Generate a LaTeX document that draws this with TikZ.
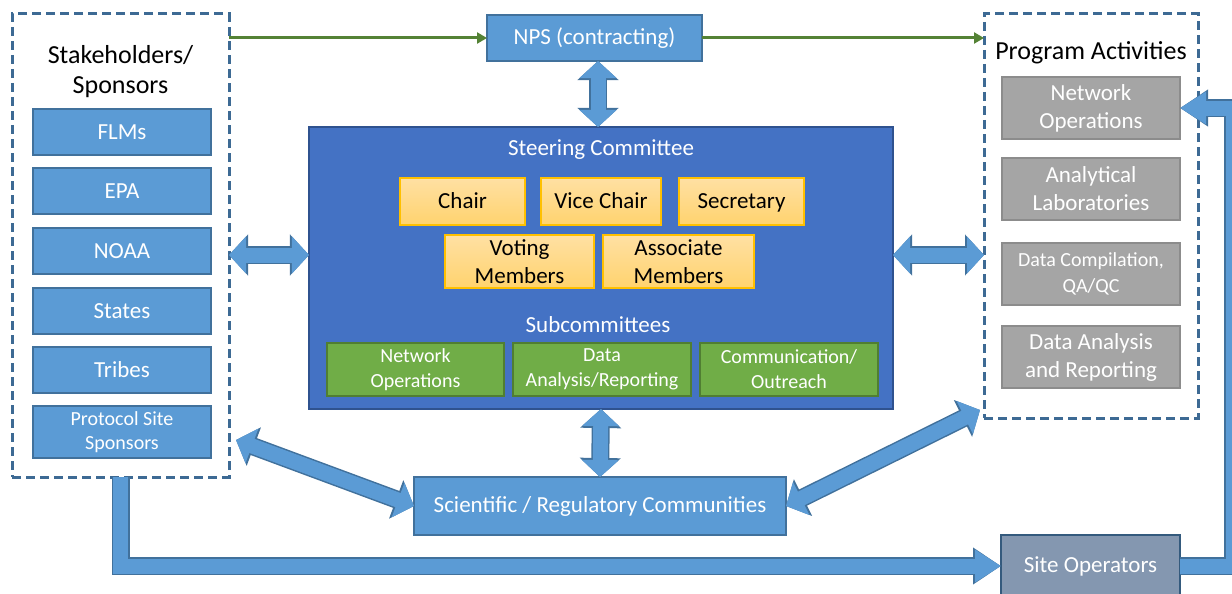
\documentclass[tikz,border=0pt]{standalone}
\usepackage{fontspec}
\setmainfont{Carlito}
\usetikzlibrary{arrows.meta,positioning}

\definecolor{boxblue}{HTML}{5B9BD5}
\definecolor{edgeblue}{HTML}{41719C}
\definecolor{dashblue}{HTML}{3D6A94}
\definecolor{steerblue}{HTML}{4472C4}
\definecolor{steeredge}{HTML}{2F528F}
\definecolor{officertop}{HTML}{FFE0A3}
\definecolor{officerbot}{HTML}{FFD36E}
\definecolor{officeredge}{HTML}{FFC000}
\definecolor{subgreen}{HTML}{70AD47}
\definecolor{subedge}{HTML}{507E32}
\definecolor{actgray}{HTML}{A5A5A5}
\definecolor{actedge}{HTML}{8C8C8C}
\definecolor{sitegray}{HTML}{8497B0}
\definecolor{flowgreen}{HTML}{548235}

% thick outlined block arrows, drawn twice (edge, then fill)
\newcommand{\blockarrow}[2][{Triangle[length=7pt 0.667,width=16pt 1.333]}-{Triangle[length=7pt 0.667,width=16pt 1.333]}]{%
  \draw[edgeblue, line width=18pt, line join=miter, #1] #2;
  \draw[boxblue, line width=15pt, line join=miter, #1] #2;}

\begin{document}
\begin{tikzpicture}[x=1pt, y=-1pt,
	every node/.style={inner sep=0pt, outer sep=0pt, align=center},
	groupbox/.style={draw=dashblue, line width=3pt, dash pattern=on 9pt off 5pt},
	grouptitle/.style={font=\fontsize{26}{30}\selectfont},
	sponsor/.style={draw=edgeblue, line width=1.2pt, fill=boxblue, text=white,
		minimum width=178pt, minimum height=46pt, font=\fontsize{23}{28}\selectfont},
	activity/.style={draw=actedge, line width=1.2pt, fill=actgray, text=white,
		minimum width=178pt, minimum height=62pt, font=\fontsize{23}{28}\selectfont},
	officer/.style={draw=officeredge, line width=1.2pt, top color=officertop, bottom color=officerbot,
		text=black, minimum height=47pt, font=\fontsize{23}{28}\selectfont},
	oneline/.style={text height=16pt, text depth=3pt},
	subcom/.style={draw=subedge, line width=1.2pt, fill=subgreen, text=white,
		minimum width=178pt, minimum height=53pt, font=\fontsize{20}{25}\selectfont},
	flow/.style={draw=flowgreen, line width=3pt, -{Triangle[length=10pt,width=11pt]}},
	elbowtip/.style={-{Triangle[length=16pt 0.667,width=11pt 1.333]}}]
\useasboundingbox (0,0) rectangle (1232,594);

% stakeholders
\node[groupbox, minimum width=217pt, minimum height=463pt,
	label={[grouptitle, anchor=north, yshift=-31pt]north:Stakeholders/\\Sponsors}] (stake) at (120.5,245.5) {};
\node[sponsor] (flm) at (122,132) {FLMs};
\node[sponsor, below=13pt of flm] (epa) {EPA};
\node[sponsor, below=14pt of epa] (noaa) {NOAA};
\node[sponsor, below=14pt of noaa] (states) {States};
\node[sponsor, below=13pt of states] (tribes) {Tribes};
\node[sponsor, below=13pt of tribes, minimum height=52pt, font=\fontsize{20}{24}\selectfont] (pss) {Protocol Site\\Sponsors};

% program activities
\node[groupbox, minimum width=214pt, minimum height=404pt,
	label={[grouptitle, anchor=north, yshift=-28pt]north:Program Activities}] (prog) at (1091,216) {};
\node[activity] (netops) at (1091,108) {Network\\Operations};
\node[activity] (labs) at (1091,189) {Analytical\\Laboratories};
\node[activity, font=\fontsize{20}{26}\selectfont] (qaqc) at (1091,274) {Data Compilation,\\QA/QC};
\node[activity] (report) at (1091,357) {Data Analysis\\and Reporting};

% contracting
\node[sponsor, minimum width=215pt] (nps) at (594.5,38) {NPS (contracting)};

% steering committee
\node[draw=steeredge, line width=1.2pt, fill=steerblue, minimum width=584pt, minimum height=282pt,
	label={[text=white, font=\fontsize{23}{28}\selectfont, anchor=north, yshift=-13pt]north:Steering Committee}] (steer) at (601,268) {};
\node[officer, oneline, minimum width=125pt] (chair) at (462.5,201.5) {Chair};
\node[officer, oneline, minimum width=120pt] (vice) at (601,201.5) {Vice Chair};
\node[officer, oneline, minimum width=125pt] (sec) at (741.5,201.5) {Secretary};
\node[officer, minimum width=149pt, minimum height=53pt] (voting) at (519.5,261.5) {Voting\\Members};
\node[officer, minimum width=151pt, minimum height=53pt] (assoc) at (678.5,261.5) {Associate\\Members};
\node[text=white, font=\fontsize{23}{28}\selectfont] (subs) at (598,325) {Subcommittees};
\node[subcom, minimum width=177pt] (subnet) at (415.5,369.5) {Network\\Operations};
\node[subcom] (subdata) at (602,369.5) {Data\\Analysis/Reporting};
\node[subcom] (subcomm) at (789,369.5) {Communication/\\Outreach};

% communities and operators
\node[sponsor, minimum width=372pt, minimum height=58pt] (sci) at (600,506) {Scientific / Regulatory Communities};
\node[sponsor, draw=edgeblue!80!black, fill=sitegray, minimum width=179pt, minimum height=62pt] (site) at (1090.5,566) {Site Operators};

% connectors
\coordinate (lmid) at (0,255);
\draw[flow] (stake.east |- nps.west) -- (nps.west);
\draw[flow] (nps.east) -- (prog.west |- nps.east);
\blockarrow{(nps.south -| 598,0) -- (598,127)}
\blockarrow{(steer.south) -- (sci.north)}
\blockarrow{(stake.east |- lmid) -- (steer.west |- lmid)}
\blockarrow{(steer.east |- lmid) -- (prog.west |- lmid)}
\blockarrow{([xshift=7pt,yshift=37pt]stake.south east) -- (sci.west)}
\blockarrow{(sci.east) -- ([xshift=-4pt,yshift=8pt]prog.south west)}
\blockarrow[elbowtip]{(stake.south) |- (site.west)}
\blockarrow[elbowtip]{(site.east) -| ([xshift=53pt]netops.east) -- (netops.east)}
\end{tikzpicture}
\end{document}
